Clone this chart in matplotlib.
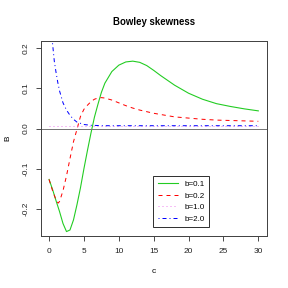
import matplotlib
matplotlib.use("Agg")
import matplotlib.pyplot as plt

plt.rcParams['font.family'] = ['Liberation Sans', 'DejaVu Sans']

# b = 0.1
c_b01 = [0, 0.5, 1, 1.5, 2, 2.5, 3, 3.5, 4, 4.5, 5, 5.5, 6, 6.5, 7, 7.5, 8, 9, 10,
         11, 12, 13, 14, 15, 16, 18, 20, 22, 24, 26, 28, 30]
B_b01 = [-0.127, -0.152, -0.18, -0.207, -0.237, -0.257, -0.253, -0.228, -0.19,
         -0.148, -0.1, -0.055, -0.012, 0.028, 0.06, 0.09, 0.113, 0.142, 0.158,
         0.166, 0.168, 0.165, 0.157, 0.145, 0.132, 0.108, 0.088, 0.073, 0.062,
         0.055, 0.049, 0.044]

# b = 0.2
c_b02 = [0, 0.5, 1, 1.3, 1.5, 2, 2.5, 3, 3.5, 4, 4.5, 5, 5.5, 6, 6.5, 7, 7.5, 8,
         9, 10, 11, 12, 13, 14, 15, 16, 18, 20, 22, 24, 26, 28, 30]
B_b02 = [-0.127, -0.155, -0.178, -0.186, -0.182, -0.155, -0.118, -0.075, -0.033,
         -0.002, 0.03, 0.048, 0.058, 0.067, 0.073, 0.076, 0.077, 0.076, 0.071,
         0.064, 0.057, 0.051, 0.046, 0.042, 0.038, 0.035, 0.029, 0.026, 0.023,
         0.021, 0.020, 0.019, 0.018]

# b = 1.0
c_b10 = [0, 30]
B_b10 = [0.0065, 0.0065]

# b = 2.0
c_b20 = [0.4, 0.5, 0.75, 1, 1.25, 1.5, 2, 2.5, 3, 3.5, 4, 5, 6, 8, 10, 15, 20, 25, 30]
B_b20 = [0.24, 0.212, 0.168, 0.14, 0.115, 0.094, 0.064, 0.046, 0.033, 0.023,
         0.016, 0.010, 0.008, 0.007, 0.007, 0.007, 0.007, 0.007, 0.007]

fig = plt.figure(figsize=(4, 4), dpi=72)
ax = fig.add_axes([0.1413, 0.1806, 0.7847, 0.6781])

ax.plot(c_b01, B_b01, color='#22cc22', lw=1.1, label='b=0.1')
ax.plot(c_b02, B_b02, color='red', lw=1, ls=(0, (4, 4)), label='b=0.2')
ax.plot(c_b10, B_b10, color='violet', lw=1, ls=(0, (1, 3)), label='b=1.0')
ax.plot(c_b20, B_b20, color='blue', lw=1, ls=(0, (1, 3, 4, 3)), label='b=2.0')
ax.axhline(0, color='#777777', lw=1)

ax.set_xlim(-1.2, 31.2)
ax.set_ylim(-0.268, 0.219)
ax.set_xticks([0, 5, 10, 15, 20, 25, 30])
ax.set_yticks([-0.2, -0.1, 0.0, 0.1, 0.2])
ax.set_yticklabels(['-0.2', '-0.1', '0.0', '0.1', '0.2'], rotation=90, va='center')
ax.tick_params(direction='out', length=5, width=0.8, labelsize=8.3, colors='#222222')
ax.tick_params(axis='x', pad=7.5)
ax.tick_params(axis='y', pad=6.5)
for sp in ax.spines.values():
    sp.set_color('#444444')
    sp.set_linewidth(1)

ax.set_xlabel('c', fontsize=8.3, labelpad=13)
ax.set_ylabel('B', fontsize=8.3, labelpad=11)
ax.set_title('Bowley skewness', fontsize=9.6, fontweight='bold', pad=16)

leg = ax.legend(loc='lower left', bbox_to_anchor=(0.498, 0.0445), fontsize=8,
                frameon=True, fancybox=False, edgecolor='#333333', framealpha=1,
                borderaxespad=0, handlelength=2.6, handletextpad=0.8,
                labelspacing=0.5, borderpad=0.55)
leg.get_frame().set_linewidth(1)

fig.savefig('out.png', dpi=72)
